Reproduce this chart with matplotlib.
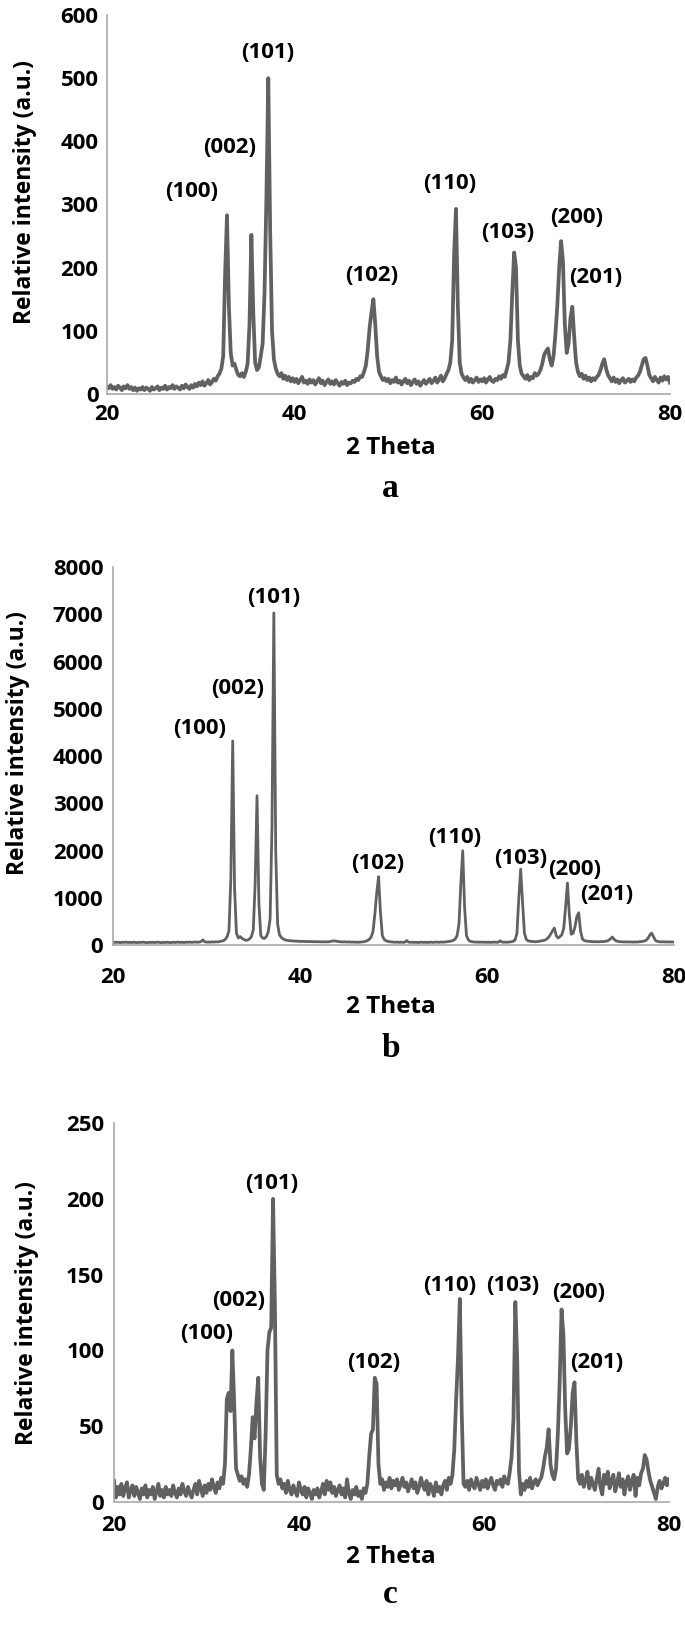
import numpy as np
import matplotlib
matplotlib.use('Agg')
import matplotlib.pyplot as plt

plt.rcParams['font.family'] = ['Open Sans', 'Liberation Sans', 'DejaVu Sans']
plt.rcParams['font.weight'] = 'bold'

# 2 theta sampling grid (deg), one value every 0.2 deg from 20 to 80
TWO_THETA = np.round(np.arange(20.0, 80.001, 0.2), 1)

# intensities, one row = 2 deg
INT_A = [
    12, 9, 14, 8, 11, 7, 13, 10, 6, 12,          # 20
    9, 14, 8, 11, 6, 10, 5, 9, 7, 11,            # 22
    6, 10, 8, 5, 11, 7, 9, 12, 6, 10,            # 24
    8, 13, 7, 11, 9, 14, 8, 12, 10, 7,           # 26
    13, 9, 15, 11, 8, 14, 10, 16, 12, 18,        # 28
    14, 20, 13, 17, 22, 15, 19, 24, 21, 28,      # 30
    32, 40, 60, 190, 283, 140, 65, 45, 48, 38,   # 32
    30, 28, 33, 27, 35, 48, 110, 252, 130, 50,   # 34
    38, 42, 60, 80, 160, 310, 500, 260, 100, 55, # 36
    40, 32, 28, 33, 24, 29, 22, 27, 20, 25,      # 38
    19, 24, 17, 22, 27, 18, 21, 16, 23, 18,      # 40
    22, 15, 20, 25, 17, 21, 14, 19, 23, 16,      # 42
    20, 15, 22, 17, 13, 19, 16, 21, 14, 18,      # 44
    17, 21, 19, 24, 22, 28, 27, 35, 45, 70,      # 46
    105, 130, 150, 110, 60, 35, 28, 22, 25, 20,  # 48
    24, 17, 22, 19, 26, 18, 21, 15, 20, 24,      # 50
    17, 21, 14, 19, 23, 16, 20, 13, 18, 22,      # 52
    16, 20, 24, 17, 21, 26, 18, 23, 29, 20,      # 54
    25, 32, 38, 50, 85, 220, 293, 140, 50, 32,   # 56
    26, 22, 27, 19, 24, 18, 22, 26, 19, 23,      # 58
    20, 25, 18, 23, 27, 21, 19, 24, 22, 28,      # 60
    24, 30, 27, 38, 50, 85, 160, 224, 200, 85,   # 62
    45, 32, 28, 24, 30, 22, 27, 25, 33, 29,      # 64
    32, 38, 48, 62, 68, 72, 55, 45, 60, 95,      # 66
    140, 200, 242, 210, 110, 65, 80, 120, 138, 90,  # 68
    50, 35, 28, 32, 24, 29, 22, 26, 20, 25,      # 70
    22, 27, 30, 38, 48, 55, 40, 30, 25, 20,      # 72
    26, 19, 23, 17, 22, 25, 18, 21, 24, 19,      # 74
    23, 20, 26, 29, 35, 45, 55, 57, 45, 30,      # 76
    25, 20, 27, 22, 18, 26, 21, 28, 23, 27,      # 78
    18,
]

INT_B = [
    60, 55, 62, 58, 52, 60, 57, 63, 55, 59,
    54, 61, 57, 52, 59, 55, 62, 56, 51, 58,
    55, 60, 53, 58, 62, 56, 51, 59, 54, 60,
    57, 52, 61, 55, 59, 63, 56, 60, 54, 62,
    58, 64, 57, 61, 66, 60, 63, 72, 110, 70,
    62, 66, 60, 68, 64, 70, 66, 74, 80, 92,
    120, 180, 300, 1400, 4320, 1200, 250, 150, 180, 140,
    120, 100, 105, 130, 180, 320, 1300, 3160, 900, 200,
    150, 140, 180, 280, 550, 2500, 7030, 2000, 450, 220,
    160, 130, 110, 100, 95, 90, 88, 84, 82, 80,
    78, 76, 80, 74, 77, 72, 75, 70, 73, 69,
    72, 68, 71, 66, 70, 67, 74, 80, 90, 85,
    78, 72, 70, 66, 69, 64, 67, 62, 65, 60,
    63, 59, 62, 66, 70, 78, 95, 120, 170, 280,
    650, 1100, 1446, 700, 200, 120, 90, 78, 70, 66,
    64, 60, 63, 58, 62, 57, 61, 95, 64, 58,
    61, 56, 60, 55, 59, 62, 57, 60, 55, 58,
    62, 57, 60, 64, 58, 62, 66, 60, 68, 72,
    78, 88, 100, 130, 200, 450, 1300, 1996, 800, 200,
    110, 80, 70, 66, 62, 64, 60, 63, 59, 62,
    58, 61, 57, 60, 64, 58, 62, 90, 65, 60,
    63, 59, 66, 70, 80, 110, 250, 1000, 1608, 900,
    250, 120, 90, 80, 76, 72, 70, 75, 80, 90,
    95, 105, 130, 170, 230, 300, 360, 200, 150, 180,
    220, 350, 800, 1312, 650, 230, 250, 380, 600, 684,
    300, 130, 95, 85, 80, 76, 74, 72, 70, 72,
    70, 75, 72, 78, 85, 100, 130, 170, 120, 90,
    78, 72, 70, 68, 66, 68, 64, 67, 63, 66,
    64, 68, 70, 75, 85, 100, 140, 210, 254, 180,
    100, 80, 72, 68, 70, 66, 69, 64, 67, 65,
    66,
]

INT_C = [
    14, 3, 10, 5, 12, 4, 9, 13, 3, 8,
    11, 4, 10, 6, 2, 9, 5, 11, 3, 8,
    5, 10, 2, 7, 12, 4, 8, 3, 10, 5,
    8, 4, 11, 6, 3, 9, 5, 12, 7, 4,
    10, 6, 3, 8, 12, 5, 14, 9, 4, 11,
    6, 12, 8, 15, 10, 6, 13, 9, 16, 12,
    25, 68, 72, 60, 100, 65, 22, 18, 14, 17,
    12, 15, 10, 18, 35, 56, 42, 65, 82, 30,
    12, 8, 45, 100, 112, 115, 200, 130, 18, 12,
    15, 9, 12, 6, 14, 8, 5, 11, 7, 4,
    13, 8, 5, 10, 3, 9, 6, 2, 8, 5,
    9, 3, 7, 12, 5, 14, 8, 13, 6, 10,
    4, 8, 11, 5, 9, 3, 15, 6, 2, 8,
    5, 10, 4, 7, 2, 9, 6, 12, 30, 45,
    48, 82, 78, 25, 12, 15, 8, 13, 10, 16,
    9, 14, 11, 15, 8, 12, 16, 10, 13, 7,
    11, 15, 9, 13, 6, 10, 16, 11, 8, 14,
    5, 12, 9, 4, 13, 7, 10, 5, 11, 14,
    8, 16, 12, 18, 35, 68, 95, 134, 60, 12,
    10, 14, 8, 15, 11, 9, 16, 12, 8, 14,
    10, 15, 9, 13, 16, 11, 8, 14, 12, 15,
    10, 17, 13, 12, 20, 30, 55, 132, 95, 20,
    5, 12, 8, 14, 10, 16, 9, 13, 15, 11,
    14, 16, 22, 30, 36, 48, 25, 18, 15, 22,
    45, 80, 127, 110, 60, 32, 35, 50, 72, 79,
    40, 15, 12, 18, 10, 14, 20, 9, 16, 12,
    8, 15, 22, 10, 5, 18, 12, 20, 9, 14,
    18, 7, 12, 19, 10, 15, 5, 13, 17, 8,
    14, 18, 4, 16, 11, 19, 22, 31, 28, 20,
    14, 10, 6, 2, 10, 14, 9, 12, 16, 11,
    15,
]

PEAKS = ['(100)', '(002)', '(101)', '(102)', '(110)', '(103)', '(200)', '(201)']
X_TICKS = [20, 40, 60, 80]
Y_TICKS_A = [0, 100, 200, 300, 400, 500, 600]
Y_TICKS_B = [0, 1000, 2000, 3000, 4000, 5000, 6000, 7000, 8000]
Y_TICKS_C = [0, 50, 100, 150, 200, 250]

# where the hkl labels sit (data coords)
LAB_X_A = [29.0, 33.1, 37.1, 48.2, 56.5, 62.7, 70.1, 72.1]
LAB_Y_A = [320, 391, 541, 187, 334, 256, 280, 184]
LAB_X_B = [29.3, 33.3, 37.2, 48.3, 56.5, 63.6, 69.4, 72.8]
LAB_Y_B = [4593, 5439, 7365, 1735, 2286, 1841, 1608, 1079]
LAB_X_C = [30.0, 33.5, 37.1, 48.1, 56.3, 63.1, 70.2, 72.2]
LAB_Y_C = [111, 133, 210, 92, 143, 143, 138, 92]

LINE = '#616161'
SPINE = '#a9a9a9'
FS_TICK = 16
FS_PEAK = 16


def draw_panel(fig, rect, y, yticks, labx, laby, lw, xpad, ypad):
    ax = fig.add_axes(rect)
    assert len(y) == len(TWO_THETA)
    ax.plot(TWO_THETA, y, color=LINE, lw=lw, solid_joinstyle='round')
    ax.set_xlim(20, 80)
    ax.set_ylim(yticks[0], yticks[-1])
    ax.set_xticks(X_TICKS)
    ax.set_yticks(yticks)
    ax.tick_params(length=0, labelsize=FS_TICK, colors='black')
    ax.tick_params(axis='x', pad=xpad)
    ax.tick_params(axis='y', pad=ypad)
    for s in ['top', 'right']:
        ax.spines[s].set_visible(False)
    for s in ['left', 'bottom']:
        ax.spines[s].set_color(SPINE)
        ax.spines[s].set_linewidth(1.2)
    for name, px, py in zip(PEAKS, labx, laby):
        ax.text(px, py, name, ha='center', va='center', fontsize=FS_PEAK,
                fontweight='bold')
    return ax


fig = plt.figure(figsize=(6.85, 16.3), dpi=100)

draw_panel(fig, [0.156, 0.7583, 0.822, 0.2325], INT_A, Y_TICKS_A,
           LAB_X_A, LAB_Y_A, 2.7, 7, 6)
draw_panel(fig, [0.165, 0.4202, 0.819, 0.2319], INT_B, Y_TICKS_B,
           LAB_X_B, LAB_Y_B, 2.0, 16, 7)
draw_panel(fig, [0.1664, 0.0785, 0.810, 0.2325], INT_C, Y_TICKS_C,
           LAB_X_C, LAB_Y_C, 2.7, 9, 7)

# axis titles and panel letters
for yl, yx, yy in [('a', 0.7252, 0.7006), ('b', 0.3822, 0.357), ('c', 0.0448, 0.022)]:
    fig.text(0.57, yx, '2 Theta', ha='center', va='center', fontsize=17.5,
             fontweight='bold')
    fig.text(0.57, yy, yl, ha='center', va='center', fontsize=24,
             fontweight='bold', family='Liberation Serif')

for xx, yy in [(0.036, 1 - 192 / 1630), (0.026, 1 - 743 / 1630), (0.040, 1 - 1313 / 1630)]:
    fig.text(xx, yy, 'Relative intensity (a.u.)', rotation=90, ha='center',
             va='center', fontsize=16.5, fontweight='bold')

fig.savefig('out.png', dpi=100)
